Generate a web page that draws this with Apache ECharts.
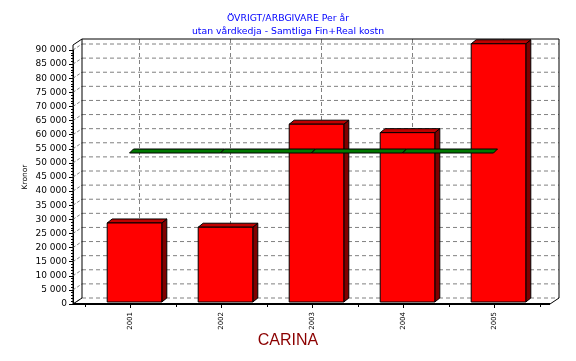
<!DOCTYPE html>
<html><head><meta charset="utf-8">
<script src="https://cdn.jsdelivr.net/npm/echarts@6/dist/echarts.min.js"></script>
<style>html,body{margin:0;padding:0;background:#fff}#c{width:576px;height:361px}</style>
</head><body><div id="c"></div>
<script>
const years = ['2001', '2002', '2003', '2004', '2005'];
const values = [28000, 26500, 63000, 60000, 91500];
const averageLine = [53500, 53500, 53500, 53500, 53500];
const yTickValues = [0,5000,10000,15000,20000,25000,30000,35000,40000,45000,50000,55000,60000,65000,70000,75000,80000,85000,90000];

const chart = echarts.init(document.getElementById('c'), null, {renderer: 'canvas'});
const DX = 9, DY = -6;
const FONT = 'DejaVu Sans';
const fmt = v => String(v).replace(/\B(?=(\d{3})+(?!\d))/g, ' ');

function frameRender(params, api) {
  const cs = params.coordSys;
  const FL = cs.x - 12, FR = cs.x + cs.width + 10;
  const y0 = api.coord([0, 0])[1];
  const top = cs.y - 5;
  const els = [];
  const line = (x1, y1, x2, y2, style) => els.push({type: 'line', shape: {x1, y1, x2, y2}, style: Object.assign({stroke: '#000', lineWidth: 1}, style)});
  yTickValues.forEach(v => {
    const y = api.coord([0, v])[1];
    line(FL + DX, y + DY, FR + DX, y + DY, {stroke: '#808080', lineDash: [4, 3]});
    line(FL, y, FL + DX, y + DY, {stroke: '#808080', lineDash: [3, 2]});
  });
  years.forEach((c, i) => {
    const x = api.coord([i, 0])[0];
    line(x + DX, top + DY, x + DX, y0 + DY, {stroke: '#808080', lineDash: [4, 3]});
  });
  line(FL + DX, top + DY, FL + DX, y0 + DY, {});
  line(FR + DX, top + DY, FR + DX, y0 + DY, {});
  line(FL + DX, top + DY, FR + DX, top + DY, {});
  line(FL, top, FL + DX, top + DY, {});
  line(FL, top, FL, y0, {});
  line(FL, y0, FL + DX, y0 + DY, {});
  line(FR, y0, FR + DX, y0 + DY, {});
  line(FL, y0, FR, y0, {lineWidth: 2});
  return {type: 'group', children: els};
}

function barRender(params, api) {
  const idx = api.value(0);
  const [cx, cy] = api.coord([idx, api.value(1)]);
  const by = api.coord([idx, 0])[1];
  const w = api.size([1, 0])[0] * 0.6;
  const x0 = cx + 4 - w / 2, t = cy - 2, b = by - 2;
  const dx = 5, dy = -4;
  return {type: 'group', children: [
    {type: 'polygon', shape: {points: [[x0 + w, t], [x0 + w + dx, t + dy], [x0 + w + dx, b + dy], [x0 + w, b]]}, style: {fill: '#800000', stroke: '#000', lineWidth: 1}},
    {type: 'polygon', shape: {points: [[x0, t], [x0 + dx, t + dy], [x0 + w + dx, t + dy], [x0 + w, t]]}, style: {fill: '#C00000', stroke: '#000', lineWidth: 1}},
    {type: 'rect', shape: {x: x0, y: t, width: w, height: b - t}, style: {fill: '#FF0000', stroke: '#000', lineWidth: 1}}
  ]};
}

function ribbonRender(params, api) {
  const i = api.value(0);
  if (i >= averageLine.length - 1) return null;
  const p1 = api.coord([i, api.value(1)]);
  const p2 = api.coord([i + 1, averageLine[i + 1]]);
  const dx = 4, dy = -4;
  return {type: 'polygon', shape: {points: [[p1[0] - 1, p1[1]], [p1[0] - 1 + dx, p1[1] + dy], [p2[0] - 1 + dx, p2[1] + dy], [p2[0] - 1, p2[1]]]},
    style: {fill: '#007800', stroke: '#000', lineWidth: 1}};
}

chart.setOption({
  animation: false,
  backgroundColor: '#fff',
  title: [
    {text: 'ÖVRIGT/ARBGIVARE Per år\nutan vårdkedja - Samtliga Fin+Real kostn', left: 'center', top: 7,
     textStyle: {color: '#0000FF', fontSize: 9.3, fontWeight: 'normal', fontFamily: FONT, lineHeight: 13}},
    {text: 'CARINA', left: 'center', top: 328, textStyle: {color: '#8B0000', fontSize: 16, fontWeight: 'normal', fontFamily: 'Liberation Sans'}}
  ],
  grid: {left: 85, right: 36, top: 50, bottom: 57, containLabel: false},
  xAxis: [
    {type: 'category', data: years, boundaryGap: true,
     axisLine: {show: false}, axisTick: {show: true, length: 3, lineStyle: {color: '#000'}},
     axisLabel: {rotate: 90, fontSize: 7, fontFamily: FONT, color: '#000', margin: 8}, splitLine: {show: false}},
    {type: 'category', data: years, position: 'bottom', boundaryGap: true,
     axisLine: {show: false}, axisTick: {show: true, alignWithLabel: true, length: 4, lineStyle: {color: '#000'}},
     axisLabel: {show: false}, splitLine: {show: false}}
  ],
  yAxis: {type: 'value', min: 0, max: 90000, interval: 5000, offset: 12,
    name: 'Kronor', nameLocation: 'middle', nameGap: 44, nameRotate: 90, nameMoveOverlap: false,
    nameTextStyle: {fontSize: 7.5, fontFamily: FONT, color: '#000'},
    axisLine: {show: true, lineStyle: {color: '#000', width: 1}},
    axisTick: {show: true, length: 4, lineStyle: {color: '#000'}},
    minorTick: {show: true, splitNumber: 5, length: 2, lineStyle: {color: '#000'}},
    axisLabel: {fontSize: 9, fontFamily: FONT, color: '#000', margin: 6, formatter: fmt},
    splitLine: {show: false}},
  series: [
    {type: 'custom', name: 'frame', renderItem: frameRender, data: [[0, 0]], z: 1, silent: true, clip: false},
    {type: 'custom', name: 'Kronor', renderItem: barRender, data: values.map((v, i) => [i, v]), encode: {x: 0, y: 1}, z: 2, clip: false},
    {type: 'custom', name: 'Medel', renderItem: ribbonRender, data: averageLine.map((v, i) => [i, v]), encode: {x: 0, y: 1}, z: 3, clip: false}
  ]
});
</script></body></html>
